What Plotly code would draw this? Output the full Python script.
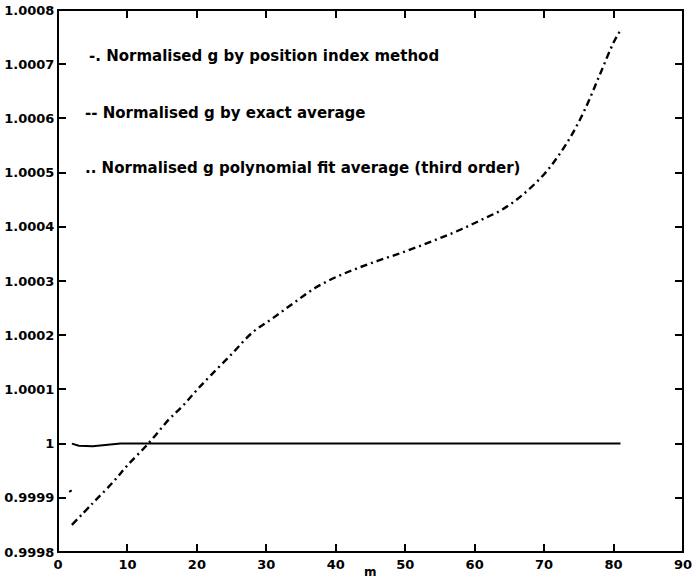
import plotly.graph_objects as go

# Position-index estimate of normalised g (dash-dot curve)
m_pos = [2, 5, 8, 10, 13, 16, 18, 20, 22, 25, 28, 31, 34, 37, 40, 43, 46, 49,
         52, 55, 58, 61, 64, 67, 70, 72, 74, 76, 78, 80, 81]
g_pos = [0.99985, 0.99989, 0.99993, 0.99996, 1.00000, 1.000045, 1.00007,
         1.000099, 1.000126, 1.000165, 1.000205, 1.000232, 1.00026, 1.000287,
         1.000307, 1.000323, 1.000337, 1.00035, 1.000364, 1.000379, 1.000395,
         1.000413, 1.000432, 1.00046, 1.000497, 1.00053, 1.00057, 1.00062,
         1.00068, 1.00074, 1.000763]

# Exact average (solid line)
m_exact = [2, 3, 5, 7, 9, 20, 40, 60, 81]
g_exact = [1.0, 0.999996, 0.999995, 0.999997, 1.0, 1.0, 1.0, 1.0, 1.0]

# Third-order polynomial fit average (dotted)
m_poly = [1.6, 2.0]
g_poly = [0.999911, 0.999914]

# Axis ranges and tick spacing
x_range = [0, 90]
x_step = 10
y_range = [0.9998, 1.0008]
y_step = 0.0001

legend_lines = [
    "-. Normalised g by position index method",
    "-- Normalised g by exact average",
    ".. Normalised g polynomial fit average (third order)",
]
legend_y = [1.000715, 1.00061, 1.000508]
legend_x = [4.2, 3.6, 3.6]

FONT = "DejaVu Sans"

fig = go.Figure()
fig.add_trace(go.Scatter(x=m_pos, y=g_pos, mode="lines", line_shape="spline",
                         line=dict(color="black", width=2.4,
                                   dash="7px,4px,2px,4px")))
fig.add_trace(go.Scatter(x=m_exact, y=g_exact, mode="lines",
                         line=dict(color="black", width=2)))
fig.add_trace(go.Scatter(x=m_poly, y=g_poly, mode="lines",
                         line=dict(color="black", width=2, dash="dot")))

for txt, yy, xx in zip(legend_lines, legend_y, legend_x):
    fig.add_annotation(x=xx, y=yy, text=txt, showarrow=False, xanchor="left",
                       yanchor="middle",
                       font=dict(family=FONT, size=15, color="black", weight="bold"))

# x-axis label
fig.add_annotation(x=0.5, y=-0.036, xref="paper", yref="paper", text="m",
                   showarrow=False, xanchor="center", yanchor="middle",
                   font=dict(family=FONT, size=12, color="black", weight="bold"))

# heavier frame around the plot area
fig.add_shape(type="rect", xref="paper", yref="paper", x0=0, y0=0, x1=1, y1=1,
              line=dict(color="black", width=2), fillcolor="rgba(0,0,0,0)")

tick_font = dict(family=FONT, size=13, color="black", weight="bold")

fig.update_xaxes(range=x_range, tick0=x_range[0], dtick=x_step, ticks="inside",
                 ticklen=8, tickwidth=2, tickcolor="black", showline=True,
                 linecolor="black", mirror="ticks", automargin=False,
                 tickfont=tick_font)
fig.update_yaxes(range=y_range, tick0=y_range[0], dtick=y_step, ticks="inside",
                 ticklen=8, tickwidth=2, tickcolor="black", showline=True,
                 linecolor="black", mirror="ticks", automargin=False,
                 tickfont=tick_font)

fig.update_layout(width=695, height=579, showlegend=False,
                  margin=dict(l=58, r=12, t=10, b=27),
                  plot_bgcolor="white", paper_bgcolor="white")

fig.write_html("out.html")
